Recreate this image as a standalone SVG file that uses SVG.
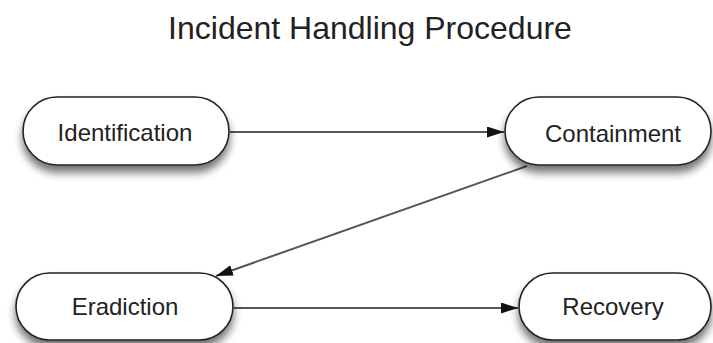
<svg xmlns="http://www.w3.org/2000/svg" width="713" height="343" viewBox="0 0 713 343">
<defs>
<style>
.node{fill:#fff;stroke:#222;stroke-width:1.6;filter:url(#sh)}
.lbl{font-family:"Liberation Sans",Arial,sans-serif;font-size:24px;fill:#222;text-anchor:middle}
.title{font-family:"Liberation Sans",Arial,sans-serif;font-size:32px;fill:#222;text-anchor:middle}
.edge{stroke:#555;stroke-width:2;fill:none;marker-end:url(#ah)}
</style>
<filter id="sh" x="-20%" y="-30%" width="140%" height="180%">
<feGaussianBlur in="SourceAlpha" stdDeviation="4"/>
<feOffset dx="0" dy="7" result="b"/>
<feComponentTransfer><feFuncA type="linear" slope="0.55"/></feComponentTransfer>
<feMerge><feMergeNode/><feMergeNode in="SourceGraphic"/></feMerge>
</filter>
<marker id="ah" markerWidth="17" markerHeight="11" refX="17" refY="5.5" orient="auto" markerUnits="userSpaceOnUse">
<path d="M0,0 L17,5.5 L0,11 Z" fill="#111"/>
</marker>
</defs>
<rect width="713" height="343" fill="#fff"/>
<text class="title" x="370" y="39">Incident Handling Procedure</text>
<g id="connectors">
<line class="edge" x1="230" y1="132" x2="504" y2="132"/>
<line class="edge" x1="527" y1="166" x2="216" y2="276"/>
<line class="edge" x1="234" y1="308" x2="518" y2="308"/>
</g>
<g id="identification">
<rect class="node" x="23" y="97" width="206" height="68" rx="34"/>
<text class="lbl" x="125" y="141">Identification</text>
</g>
<g id="containment">
<rect class="node" x="505" y="97" width="206" height="68" rx="34"/>
<text class="lbl" x="613" y="142">Containment</text>
</g>
<g id="eradiction">
<rect class="node" x="16" y="273" width="217" height="67" rx="33.5"/>
<text class="lbl" x="125" y="315">Eradiction</text>
</g>
<g id="recovery">
<rect class="node" x="519" y="273" width="192" height="67" rx="33.5"/>
<text class="lbl" x="613" y="315">Recovery</text>
</g>
</svg>
